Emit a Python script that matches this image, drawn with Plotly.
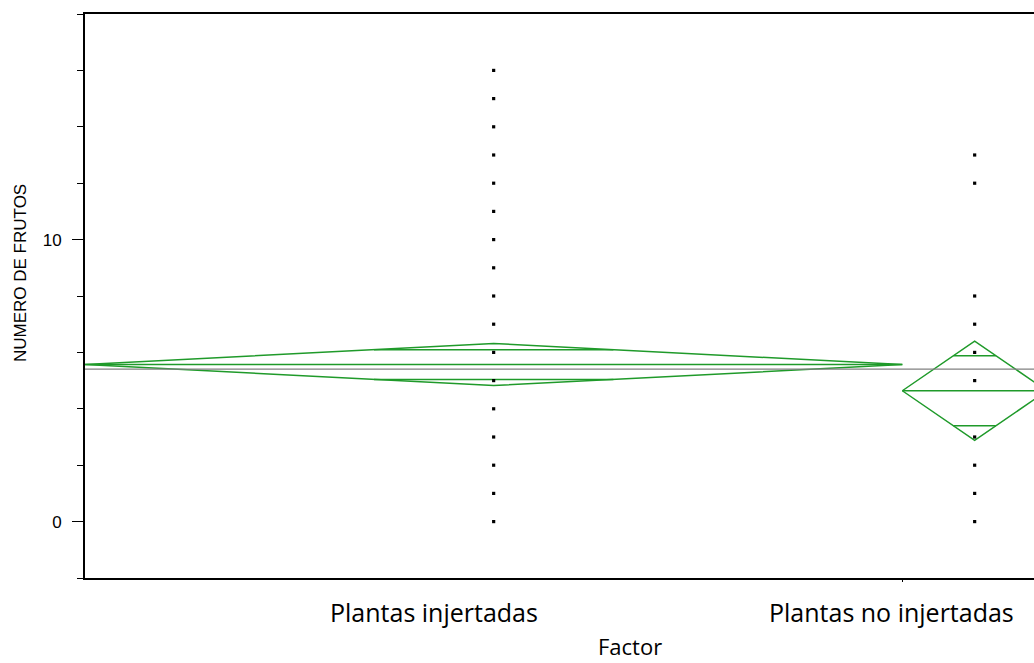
import plotly.graph_objects as go

# ---- data ----
groups = ["Plantas injertadas", "Plantas no injertadas"]
group_n = [113, 20]                      # sample sizes (set group widths)
group_means = [5.57, 4.64]
group_ci_half = [0.745, 1.76]            # 95% CI half-widths
grand_mean = 5.41
points_g1 = list(range(0, 17))
points_g2 = [0, 1, 2, 3, 5, 6, 7, 8, 12, 13]
y_ticks = [0, 10]
y_title = "NUMERO DE FRUTOS"
x_title = "Factor"

GREEN = "#1f9a2a"
W, H = 1034, 663
L, R, T, B = 85, 0, 14, 85
plot_w = W - L - R
plot_h = H - T - B

# x scale: groups occupy widths proportional to n; right end clipped
x_scale = 7.233  # px per unit
x_max = plot_w / x_scale

fig = go.Figure()

starts = [0, group_n[0]]
for i, n in enumerate(group_n):
    x0 = starts[i]
    x1 = x0 + n
    xc = (x0 + x1) / 2
    m = group_means[i]
    h = group_ci_half[i]
    # diamond
    fig.add_trace(go.Scatter(
        x=[x0, xc, x1, xc, x0], y=[m, m + h, m, m - h, m],
        mode="lines", line=dict(color=GREEN, width=1.5),
        hoverinfo="skip", showlegend=False))
    # mean line
    fig.add_trace(go.Scatter(
        x=[x0, x1], y=[m, m], mode="lines",
        line=dict(color=GREEN, width=1.5), hoverinfo="skip", showlegend=False))
    # overlap marks
    o = h / 2 ** 0.5
    frac = 1 - 1 / 2 ** 0.5
    hw = (x1 - x0) / 2 * frac
    for yy in (m + o, m - o):
        fig.add_trace(go.Scatter(
            x=[xc - hw, xc + hw], y=[yy, yy], mode="lines",
            line=dict(color=GREEN, width=1.5), hoverinfo="skip", showlegend=False))

# grand mean
fig.add_trace(go.Scatter(
    x=[0, sum(group_n)], y=[grand_mean, grand_mean], mode="lines",
    line=dict(color="#808080", width=1.3), hoverinfo="skip", showlegend=False))

# points
centers = [starts[i] + group_n[i] / 2 for i in range(2)]
for xc, pts in zip(centers, [points_g1, points_g2]):
    fig.add_trace(go.Scatter(
        x=[xc] * len(pts), y=pts, mode="markers",
        marker=dict(symbol="square", size=3.2, color="black", line=dict(width=0)),
        showlegend=False))

fig.update_layout(
    width=W, height=H,
    margin=dict(l=L, r=R, t=T, b=B),
    plot_bgcolor="white", paper_bgcolor="white",
    xaxis=dict(range=[0, x_max], showgrid=False, zeroline=False,
               showline=True, linecolor="black", linewidth=2, mirror=True,
               tickvals=[group_n[0]], ticks="outside", ticklen=2,
               tickcolor="black", showticklabels=False),
    yaxis=dict(range=[-2, 18], showgrid=False, zeroline=False,
               showline=True, linecolor="black", linewidth=2,
               tickvals=y_ticks, ticks="outside", ticklen=11, tickcolor="black",
               tickwidth=1.3, ticklabelstandoff=7,
               tickfont=dict(family="Liberation Sans, Arial", size=17, color="black"),
               minor=dict(dtick=2, ticks="outside", ticklen=6, tickcolor="black")),
    font=dict(family="Liberation Sans, Arial", color="black"),
)

def px_x(p):
    return (p - L) / plot_w

def px_y(p):
    return (H - B - p) / plot_h

label_font = dict(family="Open Sans, Lato, sans-serif", size=25, color="black")
fig.add_annotation(text=groups[0], x=px_x(434), y=px_y(612), xref="paper", yref="paper",
                   showarrow=False, font=label_font, xanchor="center", yanchor="middle")
fig.add_annotation(text=groups[1], x=px_x(891), y=px_y(612), xref="paper", yref="paper",
                   showarrow=False, font=label_font, xanchor="center", yanchor="middle")
fig.add_annotation(text=x_title, x=px_x(630), y=px_y(646), xref="paper", yref="paper",
                   showarrow=False,
                   font=dict(family="Open Sans, Lato, sans-serif", size=22, color="black"),
                   xanchor="center", yanchor="middle", borderpad=0)
fig.add_annotation(text=y_title, x=px_x(20), y=px_y(273), xref="paper", yref="paper",
                   showarrow=False, textangle=-90,
                   font=dict(family="Liberation Sans, Arial", size=17, color="black"),
                   xanchor="center", yanchor="middle")

fig.write_html("out.html")
